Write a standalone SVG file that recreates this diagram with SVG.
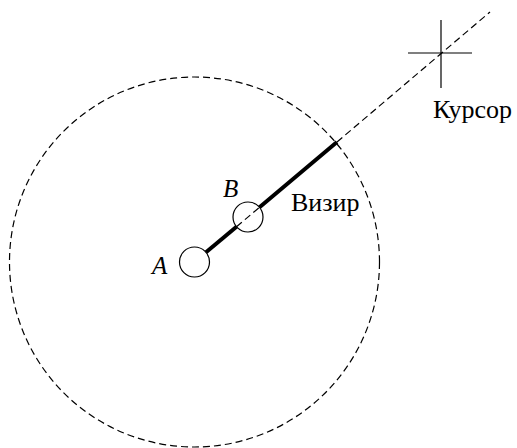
<svg xmlns="http://www.w3.org/2000/svg" width="517" height="448" viewBox="0 0 517 448">
<style>
.dash{fill:none;stroke:#000;stroke-width:1.2;stroke-dasharray:7,4}
.thin{fill:none;stroke:#000;stroke-width:1.2}
.thick{stroke:#000;stroke-width:4;stroke-linecap:butt}
text{font-family:'Liberation Serif','Times New Roman',serif;font-size:26px;fill:#000}
.it{font-style:italic;font-size:25px}
</style>
<rect width="517" height="448" fill="#fff"/>
<g id="boundary">
<circle class="dash" cx="194.5" cy="262" r="185"/>
</g>
<g id="connectors">
<line class="thick" x1="206" y1="252.3" x2="236.5" y2="226.7"/>
<line class="thick" x1="259.5" y1="207.3" x2="337" y2="142"/>
<line class="dash" x1="236.5" y1="226.7" x2="259.5" y2="207.3"/>
<line class="dash" x1="337" y1="142" x2="490" y2="12"/>
</g>
<g id="nodeA">
<circle class="thin" cx="194.5" cy="262" r="15"/>
<text class="it" x="152" y="274">A</text>
</g>
<g id="nodeB">
<circle class="thin" cx="248" cy="217" r="15"/>
<text class="it" x="223" y="197">B</text>
</g>
<g id="vizir">
<text x="291" y="211">Визир</text>
</g>
<g id="cursor">
<line stroke="#000" stroke-width="1.2" x1="408" y1="53" x2="472" y2="53"/>
<line stroke="#000" stroke-width="1.2" x1="441" y1="20" x2="441" y2="88"/>
<text x="433" y="118">Курсор</text>
</g>
</svg>
